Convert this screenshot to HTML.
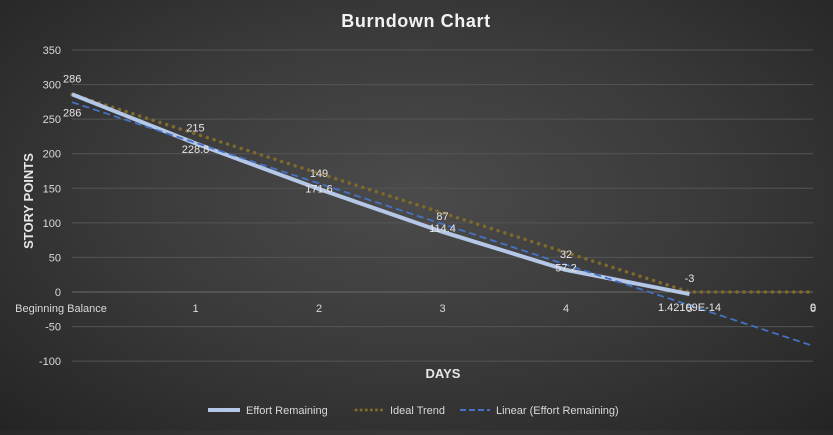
<!DOCTYPE html>
<html><head><meta charset="utf-8"><style>
html,body{margin:0;padding:0}
body{width:833px;height:430px;overflow:hidden;background:radial-gradient(ellipse at 50% 45%,#4b4b4b 0%,#3a3a3a 50%,#242424 100%);font-family:"Liberation Sans",sans-serif}
</style></head><body>
<svg id="chart" width="833" height="430" xmlns="http://www.w3.org/2000/svg" font-family="Liberation Sans, sans-serif">
<text x="416" y="27" fill="#f2f2f2" font-size="18" font-weight="bold" text-anchor="middle" letter-spacing="0.6">Burndown Chart</text>
<text transform="translate(33,201) rotate(-90)" fill="#e6e6e6" font-size="13" font-weight="bold" text-anchor="middle">STORY POINTS</text>
<text x="443" y="378" fill="#e6e6e6" font-size="13" font-weight="bold" text-anchor="middle">DAYS</text>
<g id="grid"></g><g id="ticks"></g><g id="series"></g><g id="labels"></g>
<g font-size="11" fill="#d9d9d9">
<g><line x1="208" y1="410" x2="240" y2="410" stroke="#b4c7e7" stroke-width="4"/><text x="246" y="414">Effort Remaining</text></g>
<g><line x1="356" y1="410" x2="384" y2="410" stroke="#7f6a2a" stroke-width="3" stroke-dasharray="0.1,5" stroke-linecap="round"/><text x="390" y="414">Ideal Trend</text></g>
<g><line x1="460" y1="410" x2="490" y2="410" stroke="#4472c4" stroke-width="2" stroke-dasharray="6,3"/><text x="496" y="414">Linear (Effort Remaining)</text></g>
</g>
</svg>
<script>
const categories=["Beginning Balance","1","2","3","4","5","6"];
const effortRemaining=[286,215,149,87,32,-3];
const idealTrend=[286,228.8,171.6,114.4,57.2,0,0];
const idealLabels=["286","228.8","171.6","114.4","57.2","1.42109E-14","0"];
const yTicks=[350,300,250,200,150,100,50,0,-50,-100];
const NS="http://www.w3.org/2000/svg";
const x0=72,x1=813,yZero=292,pxPerUnit=242/350;
const xs=i=>x0+i*(x1-x0)/(categories.length-1);
const ys=v=>yZero-v*pxPerUnit;
function mk(tag,attrs,parent,txt){const e=document.createElementNS(NS,tag);for(const k in attrs)e.setAttribute(k,attrs[k]);if(txt!==undefined)e.textContent=txt;document.getElementById(parent).appendChild(e);return e;}
yTicks.forEach(t=>{
 const g=mk('line',{x1:x0,x2:x1,y1:ys(t),y2:ys(t),stroke:t===0?'#6a6a6a':'#555','stroke-width':1},'grid');
 
 
 const l=mk('text',{x:61,y:ys(t)+4,fill:'#d9d9d9','font-size':11,'text-anchor':'end'},'ticks',String(t));
 
 
});
categories.forEach((c,i)=>{
 const l=mk('text',{x:i===0?61:xs(i),y:312,fill:'#d9d9d9','font-size':11,'text-anchor':'middle'},'ticks',c);
 
 
});
const n=effortRemaining.length;let mx=0,my=0;effortRemaining.forEach((v,i)=>{mx+=i;my+=v});mx/=n;my/=n;
let sxy=0,sxx=0;effortRemaining.forEach((v,i)=>{sxy+=(i-mx)*(v-my);sxx+=(i-mx)*(i-mx)});
const slope=sxy/sxx,icpt=my-slope*mx;
const pts=a=>a.map((v,i)=>xs(i)+','+ys(v)).join(' ');
const ideal=mk('polyline',{points:pts(idealTrend),fill:'none',stroke:'#7f6a2a','stroke-width':3.5,'stroke-dasharray':'0.1,7','stroke-linecap':'round'},'series');


const eff=mk('polyline',{points:pts(effortRemaining),fill:'none',stroke:'#b4c7e7','stroke-width':4},'series');


const lin=mk('line',{x1:xs(0),y1:ys(icpt),x2:xs(6),y2:ys(icpt+slope*6),stroke:'#4472c4','stroke-width':1.8,'stroke-dasharray':'7,4'},'series');


effortRemaining.forEach((v,i)=>{
 const l=mk('text',{x:i===0?63:xs(i),y:ys(v)-12,fill:'#e6e6e6','font-size':11,'text-anchor':i===0?'start':'middle'},'labels',String(v));
 
 
});
idealTrend.forEach((v,i)=>{
 const l=mk('text',{x:i===0?63:xs(i),y:ys(v)+(i===0?22:19),fill:'#e6e6e6','font-size':11,'text-anchor':i===0?'start':'middle'},'labels',idealLabels[i]);
 
 
});
</script>
</body></html>
